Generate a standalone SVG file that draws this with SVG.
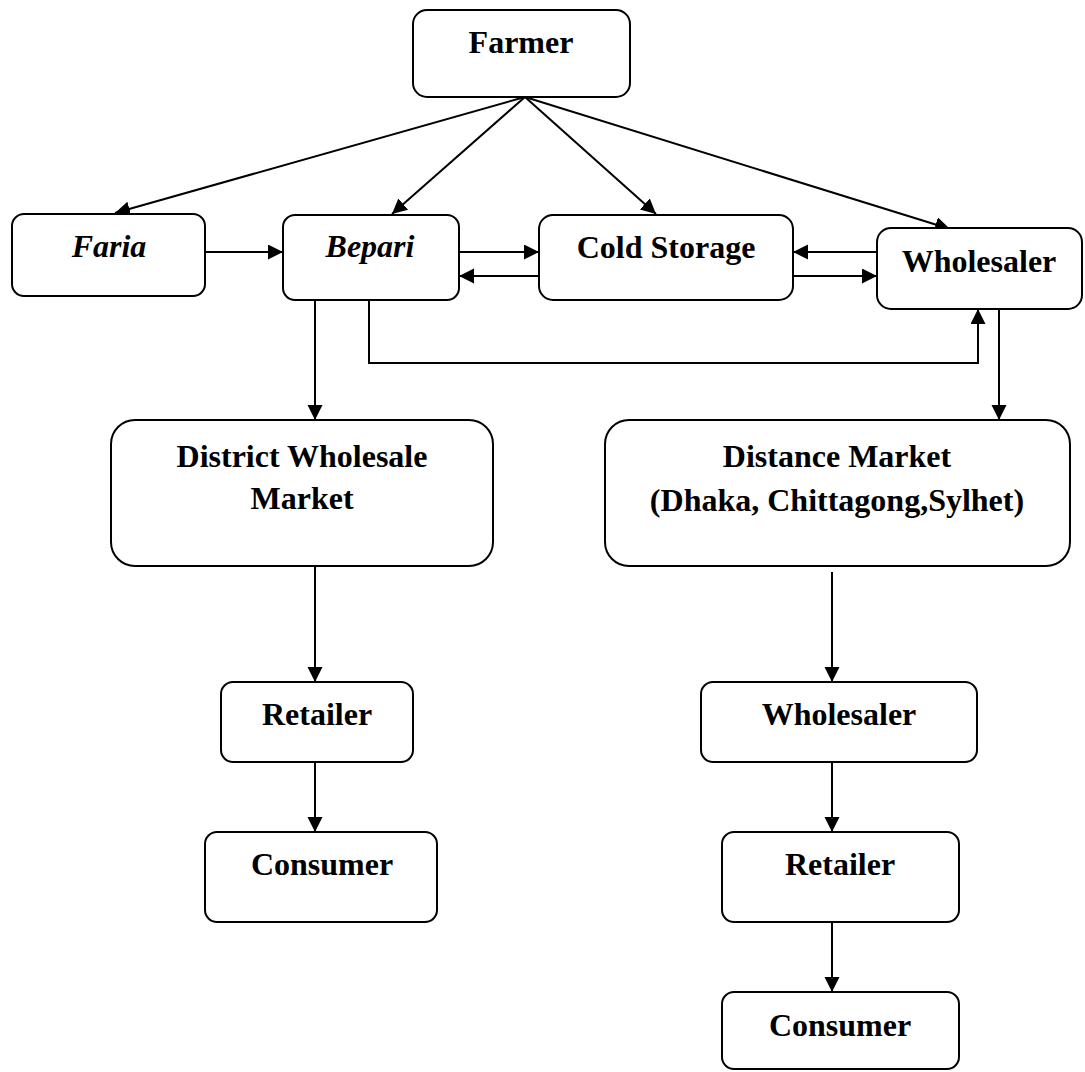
<svg xmlns="http://www.w3.org/2000/svg" width="1085" height="1072" viewBox="0 0 1085 1072">
<style>
.box{fill:#fff;stroke:#000;stroke-width:2}
.t{font-family:"Liberation Serif","Times New Roman",serif;font-weight:bold;font-size:32px;fill:#000;text-anchor:middle}
.it{font-style:italic}
.c{fill:none;stroke:#000;stroke-width:2}
</style>
<defs>
<marker id="ah" markerUnits="userSpaceOnUse" markerWidth="16" markerHeight="16" refX="15" refY="7.5" orient="auto">
<path d="M0,0 L15,7.5 L0,15 Z" fill="#000"/>
</marker>
</defs>
<rect width="1085" height="1072" fill="#fff"/>
<g id="connectors">
<line class="c" x1="525" y1="97" x2="115" y2="213" marker-end="url(#ah)"/>
<line class="c" x1="525" y1="97" x2="392" y2="214" marker-end="url(#ah)"/>
<line class="c" x1="525" y1="97" x2="656" y2="214" marker-end="url(#ah)"/>
<line class="c" x1="525" y1="97" x2="950" y2="229" marker-end="url(#ah)"/>
<path class="c" d="M205,252 H283" marker-end="url(#ah)"/>
<path class="c" d="M459,252 H539" marker-end="url(#ah)"/>
<path class="c" d="M539,276 H459" marker-end="url(#ah)"/>
<path class="c" d="M877,252 H793" marker-end="url(#ah)"/>
<path class="c" d="M793,276 H877" marker-end="url(#ah)"/>
<path class="c" d="M369,300 V363 H978 V309" marker-end="url(#ah)"/>
<path class="c" d="M999,309 V420" marker-end="url(#ah)"/>
<path class="c" d="M315,300 V420" marker-end="url(#ah)"/>
<path class="c" d="M315,566 V682" marker-end="url(#ah)"/>
<path class="c" d="M315,762 V832" marker-end="url(#ah)"/>
<path class="c" d="M832,572 V682" marker-end="url(#ah)"/>
<path class="c" d="M832,762 V832" marker-end="url(#ah)"/>
<path class="c" d="M832,922 V992" marker-end="url(#ah)"/>
</g>
<g id="farmer"><rect class="box" x="413" y="10" width="217" height="87" rx="14"/><text class="t" x="521" y="53">Farmer</text></g>
<g id="faria"><rect class="box" x="12" y="214" width="193" height="82" rx="12"/><text class="t it" x="109" y="257">Faria</text></g>
<g id="bepari"><rect class="box" x="283" y="215" width="176" height="85" rx="12"/><text class="t it" x="370" y="257">Bepari</text></g>
<g id="cold-storage"><rect class="box" x="539" y="215" width="254" height="85" rx="14"/><text class="t" x="666" y="258">Cold Storage</text></g>
<g id="wholesaler-top"><rect class="box" x="877" y="228" width="205" height="81" rx="14"/><text class="t" x="979" y="272">Wholesaler</text></g>
<g id="district-market"><rect class="box" x="111" y="420" width="382" height="146" rx="24"/><text class="t" x="302" y="467">District Wholesale</text><text class="t" x="302" y="509">Market</text></g>
<g id="distance-market"><rect class="box" x="605" y="420" width="465" height="146" rx="24"/><text class="t" x="837" y="467">Distance Market</text><text class="t" x="837" y="511">(Dhaka, Chittagong,Sylhet)</text></g>
<g id="retailer-left"><rect class="box" x="221" y="682" width="192" height="80" rx="12"/><text class="t" x="317" y="725">Retailer</text></g>
<g id="consumer-left"><rect class="box" x="205" y="832" width="232" height="90" rx="12"/><text class="t" x="322" y="875">Consumer</text></g>
<g id="wholesaler-bottom"><rect class="box" x="701" y="682" width="276" height="80" rx="12"/><text class="t" x="839" y="725">Wholesaler</text></g>
<g id="retailer-right"><rect class="box" x="722" y="832" width="237" height="90" rx="12"/><text class="t" x="840" y="875">Retailer</text></g>
<g id="consumer-right"><rect class="box" x="722" y="992" width="237" height="77" rx="12"/><text class="t" x="840" y="1036">Consumer</text></g>
</svg>
